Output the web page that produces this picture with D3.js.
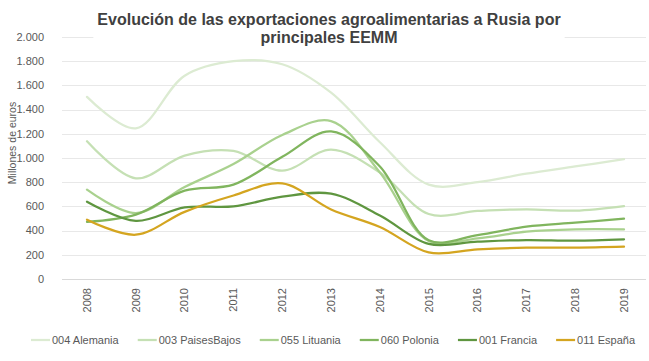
<!DOCTYPE html>
<html>
<head>
<meta charset="utf-8">
<script src="https://cdn.jsdelivr.net/npm/d3@7"></script>
<style>
  body { margin: 0; background: #fff; }
  text { font-family: "Liberation Sans", Arial, sans-serif; }
</style>
</head>
<body>
<script>
'use strict';

// data (millones de euros)
const years = ["2008", "2009", "2010", "2011", "2012", "2013", "2014", "2015", "2016", "2017", "2018", "2019"];
const seriesNames = ["004 Alemania", "003 PaisesBajos", "055 Lituania", "060 Polonia", "001 Francia", "011 España"];
const alemania    = [1505, 1245, 1680, 1800, 1775, 1540, 1130, 780, 800, 870, 930, 990];
const paisesBajos = [1138, 832, 1020, 1058, 895, 1070, 880, 537, 562, 576, 565, 603];
const lituania    = [738, 545, 760, 950, 1190, 1305, 880, 314, 336, 391, 410, 410];
const polonia     = [472, 532, 730, 780, 1010, 1220, 930, 320, 363, 432, 465, 499];
const francia     = [639, 480, 592, 600, 680, 705, 525, 290, 309, 322, 317, 328];
const espana      = [490, 366, 555, 690, 790, 575, 430, 220, 245, 259, 259, 267];
const yTicks = [0, 200, 400, 600, 800, 1000, 1200, 1400, 1600, 1800, 2000];

const seriesValues = [alemania, paisesBajos, lituania, polonia, francia, espana];
const colors = ["#dcebd2", "#c5e0b4", "#a9d18e", "#80b55e", "#5f9640", "#d4a520"];

window.onload = function() {
  let width = 649;
  let height = 361;
  let svg = d3.select("body")
    .append("svg")
    .attr("width", width)
    .attr("height", height);

  let x = d3.scalePoint()
    .domain(years)
    .range([87, 624]);
  let y = d3.scaleLinear()
    .domain([0, 2000])
    .range([279, 37]);

  let fmt = d3.formatLocale({ decimal: ",", thousands: ".", grouping: [3], currency: ["", ""] }).format(",");

  // gridlines
  svg.append("g")
    .selectAll("line")
    .data(yTicks)
    .enter()
    .append("line")
    .attr("x1", 62)
    .attr("x2", 646)
    .attr("y1", d => Math.round(y(d)) + 0.5)
    .attr("y2", d => Math.round(y(d)) + 0.5)
    .attr("stroke", d => d === 0 ? "#d9d9d9" : "#e8e8e8")
    .attr("stroke-width", 1);

  // title (white box hides the top gridline like the original)
  let titleG = svg.append("g");
  let box = titleG.append("rect").attr("fill", "#fff");
  let title = titleG.append("text")
    .attr("text-anchor", "middle")
    .attr("font-size", 16)
    .attr("font-weight", "bold")
    .attr("fill", "#404040");
  title.append("tspan").attr("x", 329).attr("y", 25)
    .text("Evolución de las exportaciones agroalimentarias a Rusia por");
  title.append("tspan").attr("x", 329).attr("y", 43)
    .text("principales EEMM");
  let bb = title.node().getBBox();
  box.attr("x", bb.x - 4).attr("y", bb.y).attr("width", bb.width + 8).attr("height", bb.height + 2);

  // y labels
  svg.append("g")
    .selectAll("text")
    .data(yTicks)
    .enter()
    .append("text")
    .attr("x", 44)
    .attr("y", d => y(d))
    .attr("dy", "0.35em")
    .attr("text-anchor", "end")
    .attr("font-size", 11)
    .attr("fill", "#595959")
    .text(d => fmt(d));

  svg.append("text")
    .attr("transform", "translate(12,143) rotate(-90)")
    .attr("dy", "0.35em")
    .attr("text-anchor", "middle")
    .attr("font-size", 10.5)
    .attr("fill", "#595959")
    .text("Millones de euros");

  // x labels
  svg.append("g")
    .selectAll("text")
    .data(years)
    .enter()
    .append("text")
    .attr("transform", d => "translate(" + x(d) + ",288) rotate(-90)")
    .attr("dy", "0.35em")
    .attr("text-anchor", "end")
    .attr("font-size", 11)
    .attr("fill", "#595959")
    .text(d => d);

  // lines
  let line = d3.line()
    .x((v, i) => x(years[i]))
    .y(v => y(v))
    .curve(d3.curveCatmullRom.alpha(0.5));

  svg.append("g")
    .selectAll("path")
    .data(seriesValues)
    .enter()
    .append("path")
    .attr("fill", "none")
    .attr("stroke", (d, i) => colors[i])
    .attr("stroke-width", 2.25)
    .attr("stroke-linecap", "round")
    .attr("d", line);

  // legend
  let legend = svg.append("g");
  let items = legend.selectAll("g")
    .data(seriesNames)
    .enter()
    .append("g");
  items.append("line")
    .attr("x1", 0)
    .attr("x2", 19)
    .attr("y1", 340)
    .attr("y2", 340)
    .attr("stroke", (d, i) => colors[i])
    .attr("stroke-width", 2.25);
  items.append("text")
    .attr("x", 21)
    .attr("y", 340)
    .attr("dy", "0.35em")
    .attr("font-size", 11)
    .attr("fill", "#595959")
    .text(d => d);

  let widths = [];
  items.each(function() {
    widths.push(21 + d3.select(this).select("text").node().getComputedTextLength());
  });
  let start = 31, end = 635;
  let gap = (end - start - d3.sum(widths)) / (widths.length - 1);
  let pos = start;
  items.each(function(d, i) {
    d3.select(this).attr("transform", "translate(" + pos + ",0)");
    pos += widths[i] + gap;
  });
};
</script>
</body>
</html>
